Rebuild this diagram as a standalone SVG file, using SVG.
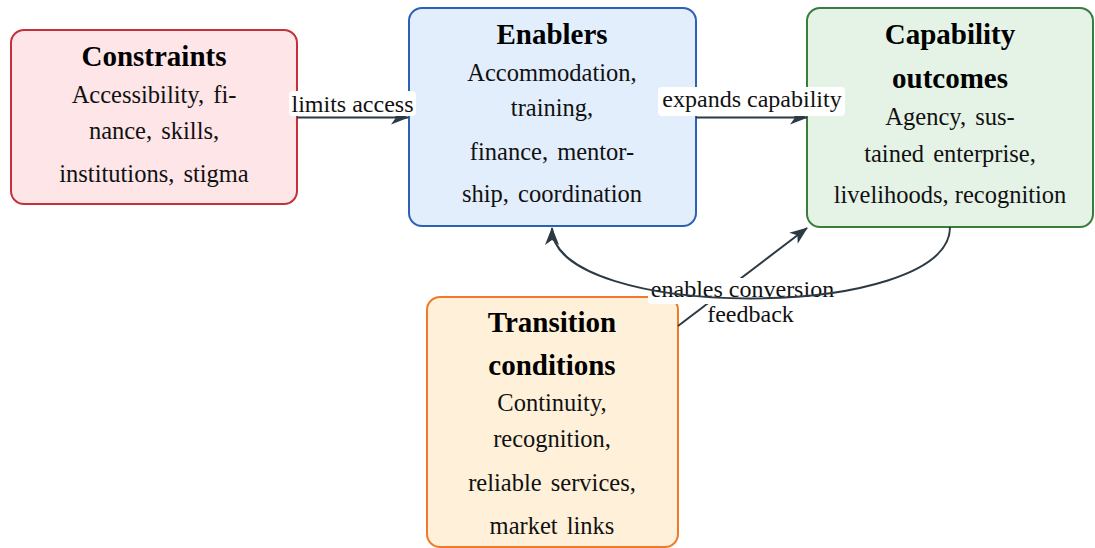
<svg xmlns="http://www.w3.org/2000/svg" width="1095" height="548" viewBox="0 0 1095 548">
  <defs>
    <marker id="stealth" viewBox="0 0 18 14" refX="17" refY="7" markerWidth="18" markerHeight="14" markerUnits="userSpaceOnUse" orient="auto">
      <path d="M0,0 L18,7 L0,14 L5,7 Z" fill="#2d3a44"/>
    </marker>
    <style>
      .box { stroke-width: 2; }
      .title { font-family: "Liberation Serif", "Times New Roman", serif; font-weight: bold; font-size: 29px; fill: #000; text-anchor: middle; }
      .body { font-family: "Liberation Serif", "Times New Roman", serif; font-size: 24.5px; fill: #111; text-anchor: middle; }
      .sp { word-spacing: 3px; }
      .edge { fill: none; stroke: #2d3a44; stroke-width: 2; }
      .lbl-bg { fill: #ffffff; }
      .lbl { font-family: "Liberation Serif", "Times New Roman", serif; font-size: 24px; fill: #111; text-anchor: middle; }
    </style>
  </defs>

  <rect width="1095" height="548" fill="#ffffff"/>

  <!-- Constraints -->
  <g id="constraints">
    <rect class="box" x="11" y="30" width="286" height="174" rx="13" fill="#fde5e8" stroke="#c4313a"/>
    <text class="title" x="154" y="66">Constraints</text>
    <text class="body sp" x="154" y="103">Accessibility, fi-</text>
    <text class="body sp" x="154" y="139">nance, skills,</text>
    <text class="body sp" x="154" y="182">institutions, stigma</text>
  </g>

  <!-- Enablers -->
  <g id="enablers">
    <rect class="box" x="409" y="8" width="287" height="218" rx="13" fill="#e2eefc" stroke="#2b62b6"/>
    <text class="title" x="552" y="44">Enablers</text>
    <text class="body" x="552" y="81">Accommodation,</text>
    <text class="body" x="552" y="116">training,</text>
    <text class="body sp" x="552" y="160">finance, mentor-</text>
    <text class="body sp" x="552" y="202">ship, coordination</text>
  </g>

  <!-- Capability outcomes -->
  <g id="capability">
    <rect class="box" x="807" y="8" width="286" height="219" rx="13" fill="#e5f3e7" stroke="#3a7c3c"/>
    <text class="title" x="950" y="44">Capability</text>
    <text class="title" x="950" y="88">outcomes</text>
    <text class="body sp" x="950" y="125">Agency, sus-</text>
    <text class="body sp" x="950" y="162">tained enterprise,</text>
    <text class="body" x="950" y="203">livelihoods, recognition</text>
  </g>

  <!-- Transition conditions -->
  <g id="transition">
    <rect class="box" x="427" y="297" width="251" height="250" rx="13" fill="#fff0da" stroke="#f07a2a"/>
    <text class="title" x="552" y="332">Transition</text>
    <text class="title" x="552" y="375">conditions</text>
    <text class="body" x="552" y="411">Continuity,</text>
    <text class="body" x="552" y="447">recognition,</text>
    <text class="body sp" x="552" y="491">reliable services,</text>
    <text class="body sp" x="552" y="534">market links</text>
  </g>

  <!-- Connectors -->
  <g id="connectors">
    <!-- constraints to enablers -->
    <path class="edge" d="M297,117.5 L408,117.5" marker-end="url(#stealth)"/>
    <rect class="lbl-bg" x="289" y="91" width="127" height="25" rx="4"/>
    <text class="lbl" x="352.5" y="112">limits access</text>

    <!-- enablers to capability -->
    <path class="edge" d="M696,117.5 L807,117.5" marker-end="url(#stealth)"/>
    <rect class="lbl-bg" x="658" y="87" width="187" height="29" rx="4"/>
    <text class="lbl" x="752" y="107">expands capability</text>

    <!-- transition to capability -->
    <path class="edge" d="M678,326 L807,228" marker-end="url(#stealth)"/>
    <rect class="lbl-bg" x="648" y="278" width="190" height="26" rx="4"/>
    <text class="lbl" x="742.5" y="296.5">enables conversion</text>

    <!-- feedback from capability back to enablers -->
    <path class="edge" d="M950,227 C950,322 552,322 552,228" marker-end="url(#stealth)"/>
    <rect class="lbl-bg" x="705" y="305" width="92" height="22" rx="4"/>
    <text class="lbl" x="750.5" y="321.5">feedback</text>
  </g>
</svg>
